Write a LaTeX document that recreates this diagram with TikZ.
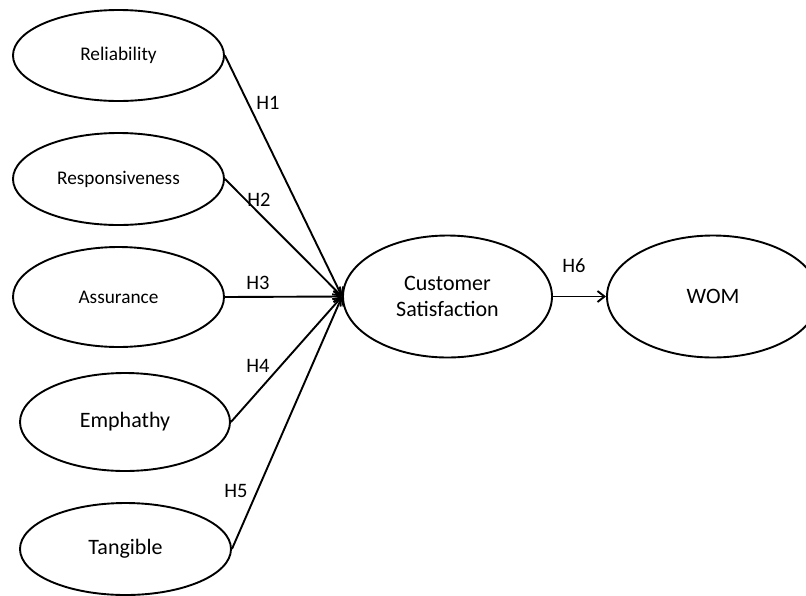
\documentclass[tikz,border=0pt]{standalone}
\usepackage{fontspec}
\setmainfont{Carlito}
\usetikzlibrary{shapes.geometric,arrows.meta}
\begin{document}
\begin{tikzpicture}[x=1pt,y=-1pt,
  latent/.style={draw,ellipse,line width=1.9pt,inner sep=0pt,align=center},
  path/.style={line width=1.9pt,-{Straight Barb[length=7pt,width=11pt,line width=1.9pt]}},
  hlab/.style={font=\fontsize{20.5}{24}\selectfont}]
\useasboundingbox (0,0) rectangle (806,595);
\clip (0,0) rectangle (806,595);
\node[latent,minimum width=211pt,minimum height=91pt,font=\fontsize{19.3}{23}\selectfont] (rel) at (118.5,55.5) {Reliability};
\node[latent,minimum width=211pt,minimum height=92pt,font=\fontsize{19.3}{23}\selectfont] (resp) at (118.5,179) {Responsiveness};
\node[latent,minimum width=211pt,minimum height=100pt,font=\fontsize{19.3}{23}\selectfont] (ass) at (118.5,297) {Assurance};
\node[latent,minimum width=210pt,minimum height=98pt,font=\fontsize{22}{26}\selectfont] (emp) at (125,422) {Emphathy};
\node[latent,minimum width=211pt,minimum height=92pt,font=\fontsize{22}{26}\selectfont] (tan) at (125.5,549) {Tangible};
\node[latent,minimum width=209pt,minimum height=122pt,font=\fontsize{22}{26.5}\selectfont] (cs) at (447.5,296.5) {Customer\\Satisfaction};
\node[latent,minimum width=212pt,minimum height=122pt,font=\fontsize{22}{26}\selectfont] (wom) at (713,296.5) {WOM};
\draw[path] (rel.east) -- (cs.west);
\draw[path] (resp.east) -- (cs.west);
\draw[path] (ass.east) -- (cs.west);
\draw[path] (emp.east) -- (cs.west);
\draw[path] (tan.east) -- (cs.west);
\draw[path] (cs.east) -- (wom.west);
\node[hlab] (h1) at (268,103) {H1};
\node[hlab] (h2) at (259,200) {H2};
\node[hlab] (h3) at (258,283) {H3};
\node[hlab] (h4) at (258,366) {H4};
\node[hlab] (h5) at (236,491) {H5};
\node[hlab] (h6) at (574,266) {H6};
\end{tikzpicture}
\end{document}
